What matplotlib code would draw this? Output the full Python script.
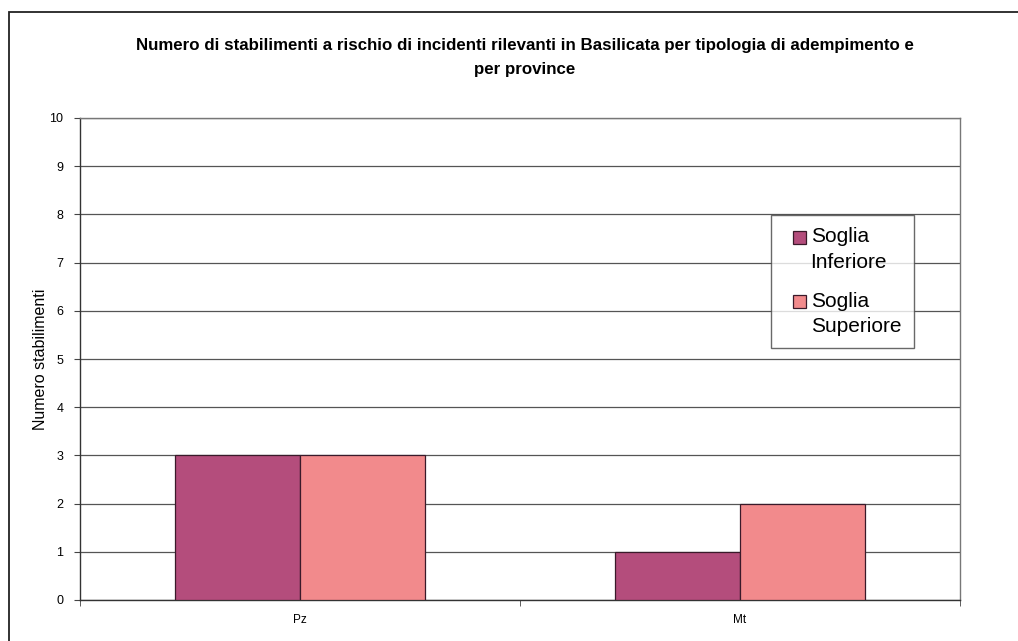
#!/usr/bin/env python
# coding=utf-8
"""
Bar chart of major-accident-hazard establishments in Basilicata
by threshold type and province
"""

import numpy as np
import matplotlib
matplotlib.use('Agg')
import matplotlib.pyplot as plt
from matplotlib.patches import Rectangle
from matplotlib.container import BarContainer
from matplotlib.legend_handler import HandlerPatch, update_from_first_child

provinces = ['Pz', 'Mt']
soglia_inferiore = [3, 1]
soglia_superiore = [3, 2]
series_labels = ['Soglia\nInferiore', 'Soglia\nSuperiore']
y_ticks = list(range(0, 11))

col_inf = '#b44d7c'
col_sup = '#f28a8c'

plt.rcParams['font.family'] = ['Liberation Sans', 'DejaVu Sans']


def square_on_first_line(legend, orig_handle, xdescent, ydescent,
                         width, height, fontsize):
    #  Legend key sits next to the first text line, not the middle
    return Rectangle((-xdescent + width - height,
                      -ydescent + 0.6 * fontsize), height, height)


W, H = 1018, 641
fig = plt.figure(figsize=(W / 100.0, H / 100.0), dpi=100)

#  Chart area frame (left and top edges visible, the rest runs off the page)
fig.patches.append(Rectangle((9 / W, -0.05), 1.2, 1 - 12 / H + 0.05,
                             transform=fig.transFigure, fill=False,
                             edgecolor='#222222', linewidth=1.3))

left, right, top, bottom = 80, 960, 118, 600
ax = fig.add_axes([left / W, 1 - bottom / H, (right - left) / W,
                   (bottom - top) / H])

x = np.arange(len(provinces))
bw = 0.2841
ax.bar(x - bw / 2, soglia_inferiore, bw, color=col_inf, edgecolor='#3a1a2a',
       linewidth=0.9, label=series_labels[0], zorder=3)
ax.bar(x + bw / 2, soglia_superiore, bw, color=col_sup, edgecolor='#3a1a2a',
       linewidth=0.9, label=series_labels[1], zorder=3)

ax.set_xlim(-0.5, 1.5)
ax.set_ylim(0, 10)
ax.set_yticks(y_ticks)
ax.yaxis.grid(True, color='#555555', linewidth=0.9, zorder=0)
ax.set_axisbelow(True)

ax.set_xticks(x)
ax.set_xticklabels(provinces, fontsize=8.5)
ax.set_xticks([-0.5, 0.5, 1.5], minor=True)
ax.tick_params(axis='x', which='major', length=0, pad=10)
ax.tick_params(axis='x', which='minor', length=4, direction='out',
               color='#444444')
ax.tick_params(axis='y', length=4, direction='out', labelsize=9,
               color='#444444', pad=8)

for side in ['left', 'bottom']:
    ax.spines[side].set_color('#333333')
    ax.spines[side].set_linewidth(1.0)
for side in ['right', 'top']:
    ax.spines[side].set_color('#777777')
    ax.spines[side].set_linewidth(1.0)

ax.set_ylabel('Numero stabilimenti', fontsize=11.5, labelpad=1)

fig.text(525 / W, 1 - 57.5 / H,
         'Numero di stabilimenti a rischio di incidenti rilevanti in '
         'Basilicata per tipologia di adempimento e\nper province',
         ha='center', va='center', fontsize=12.2, fontweight='bold',
         linespacing=1.8)

leg = ax.legend(loc='upper left',
                bbox_to_anchor=((771 - left) / (right - left),
                                (bottom - 215) / (bottom - top)),
                handler_map={BarContainer: HandlerPatch(
                    patch_func=square_on_first_line,
                    update_func=update_from_first_child)},
                fontsize=15, frameon=True, fancybox=False,
                handlelength=1.1, handleheight=0.6, handletextpad=0.2,
                labelspacing=0.95, borderpad=0.6, borderaxespad=0)
leg.get_frame().set_edgecolor('#444444')
leg.get_frame().set_linewidth(1.0)
for t in leg.get_texts():
    t.set_linespacing(1.42)

fig.savefig('out.png', dpi=100)
plt.close()
